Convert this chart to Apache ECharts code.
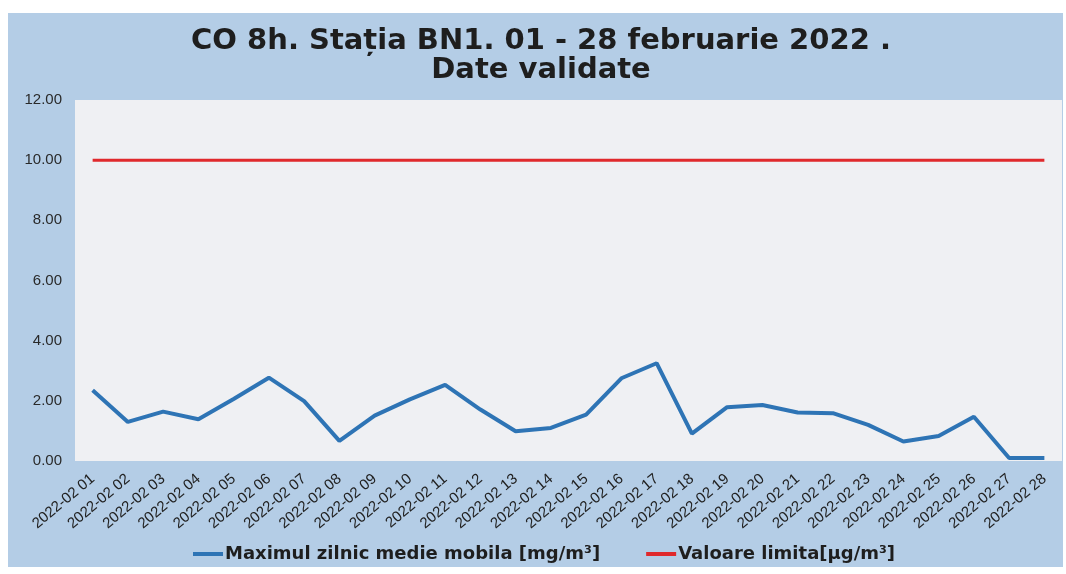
<!DOCTYPE html>
<html>
<head>
<meta charset="utf-8">
<script src="https://cdn.jsdelivr.net/npm/echarts@6/dist/echarts.min.js"></script>
<style>
  html, body { margin: 0; padding: 0; background: #ffffff; }
  .all { position: relative; width: 1066px; height: 574px; }
  .bg {
    position: absolute;
    left: 8px; top: 13px; right: 3px; bottom: 7px;
    background-color: #b4cde6;
  }
  #chart { position: absolute; left: 0; top: 0; width: 1066px; height: 574px; }
</style>
</head>
<body>
<div class="all">
  <div class="bg"></div>
  <div id="chart"></div>
</div>
<script>
// zilele lunii (etichete axa X)
const days = [
  "2022-02 01", "2022-02 02", "2022-02 03", "2022-02 04", "2022-02 05",
  "2022-02 06", "2022-02 07", "2022-02 08", "2022-02 09", "2022-02 10",
  "2022-02 11", "2022-02 12", "2022-02 13", "2022-02 14", "2022-02 15",
  "2022-02 16", "2022-02 17", "2022-02 18", "2022-02 19", "2022-02 20",
  "2022-02 21", "2022-02 22", "2022-02 23", "2022-02 24", "2022-02 25",
  "2022-02 26", "2022-02 27", "2022-02 28"
];
// maximul zilnic al mediei mobile pe 8h, mg/m3
const coMax = [
  2.35, 1.30, 1.64, 1.39, 2.06, 2.77, 1.99, 0.67, 1.51, 2.05,
  2.53, 1.71, 0.99, 1.10, 1.54, 2.75, 3.25, 0.91, 1.79, 1.86,
  1.61, 1.59, 1.20, 0.65, 0.83, 1.47, 0.10, 0.10
];
// valoarea limita
const limit = [
  10, 10, 10, 10, 10, 10, 10, 10, 10, 10,
  10, 10, 10, 10, 10, 10, 10, 10, 10, 10,
  10, 10, 10, 10, 10, 10, 10, 10
];
const yTicks = { min: 0, max: 12, step: 2 };

const font = "'Liberation Sans', Arial, sans-serif";
const wideFont = "'DejaVu Sans', sans-serif";
const mychart = echarts.init(document.getElementById("chart"));

const option = {
  backgroundColor: "transparent",
  animation: false,
  title: {
    text: "CO 8h. Stația BN1. 01 - 28 februarie 2022 .\nDate validate",
    left: 536,
    textAlign: "center",
    top: 22,
    textStyle: {
      fontFamily: wideFont,
      fontSize: 29,
      fontWeight: "bold",
      color: "#1e1e1e",
      lineHeight: 29,
    },
  },
  grid: {
    left: 75,
    right: 4,
    top: 100,
    bottom: 113,
    show: true,
    backgroundColor: "#eff0f3",
    borderWidth: 0,
  },
  xAxis: {
    type: "category",
    data: days,
    boundaryGap: true,
    axisLine: { show: false },
    axisTick: { show: false },
    axisLabel: {
      rotate: 40,
      interval: 0,
      margin: 16,
      fontFamily: font,
      fontSize: 15,
      color: "#222222",
    },
  },
  yAxis: {
    type: "value",
    min: yTicks.min,
    max: yTicks.max,
    interval: yTicks.step,
    splitLine: { show: false },
    axisLine: { show: false },
    axisTick: { show: false },
    axisLabel: {
      margin: 13,
      fontFamily: font,
      fontSize: 15,
      color: "#2a2a2a",
      formatter: (v) => v.toFixed(2),
    },
  },
  legend: {
    left: 188,
    top: 540,
    itemGap: 46,
    itemWidth: 30,
    itemHeight: 4,
    textStyle: {
      fontFamily: wideFont,
      fontSize: 18,
      fontWeight: "bold",
      color: "#1e1e1e",
      padding: [0, 0, 0, -3],
    },
    data: [
      { name: "Maximul zilnic medie mobila [mg/m³]", icon: "rect" },
      { name: "Valoare limita[µg/m³]", icon: "rect" },
    ],
  },
  series: [
    {
      name: "Maximul zilnic medie mobila [mg/m³]",
      type: "line",
      data: coMax,
      symbol: "none",
      color: "#2e74b5",
      lineStyle: { color: "#2e74b5", width: 4 },
    },
    {
      name: "Valoare limita[µg/m³]",
      type: "line",
      data: limit,
      symbol: "none",
      color: "#e0292c",
      lineStyle: { color: "#e0292c", width: 3 },
    },
  ],
};
mychart.setOption(option);
</script>
</body>
</html>
